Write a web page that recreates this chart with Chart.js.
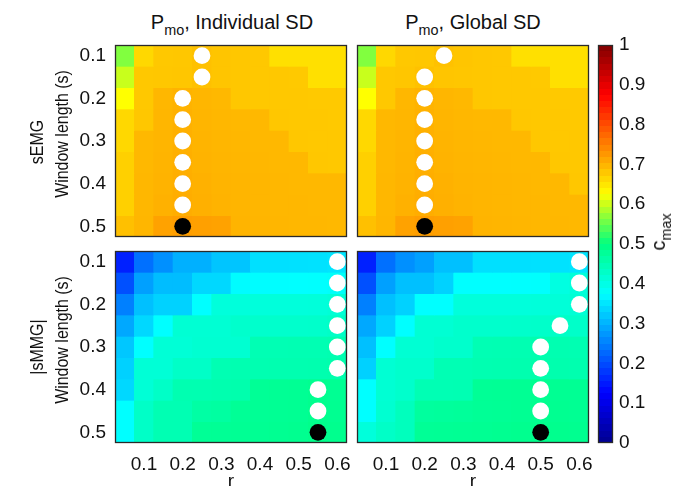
<!DOCTYPE html>
<html><head><meta charset="utf-8">
<script src="https://cdn.jsdelivr.net/npm/chart.js@4/dist/chart.umd.min.js"></script>
<style>
html,body{margin:0;padding:0;background:#fff;}
#fig{position:relative;width:676px;height:486px;overflow:hidden;background:#fff;font-family:'Liberation Sans',Arial,sans-serif;color:#111;}
.box{position:absolute;}
.lbl{position:absolute;white-space:nowrap;line-height:1;}
.lbl sub{font-size:0.72em;vertical-align:-0.42em;line-height:0;}
.t{font-size:20px;transform:translate(-50%,0);}
.v{font-size:19px;transform:translate(-50%,-50%) rotate(-90deg) scaleX(0.84);}
</style></head><body>
<div id="fig">
  <div class="box" style="left:0;top:40px;width:352px;height:202px"><canvas id="cA"></canvas></div>
  <div class="box" style="left:352px;top:40px;width:242px;height:202px"><canvas id="cB"></canvas></div>
  <div class="box" style="left:0;top:246px;width:352px;height:260px"><canvas id="cC"></canvas></div>
  <div class="box" style="left:352px;top:246px;width:242px;height:260px"><canvas id="cD"></canvas></div>
  <div class="box" style="left:594px;top:20px;width:82px;height:445px"><canvas id="cE"></canvas></div>
  <div class="lbl t" style="left:232px;top:12px">P<sub>mo</sub>, Individual SD</div>
  <div class="lbl t" style="left:473px;top:12px">P<sub>mo</sub>, Global SD</div>
  <div class="lbl v" style="left:36px;top:142px">sEMG</div>
  <div class="lbl v" style="left:61px;top:134px">Window length (s)</div>
  <div class="lbl v" style="left:36px;top:347px">|sMMG|</div>
  <div class="lbl v" style="left:61px;top:340px">Window length (s)</div>
  <div class="lbl v" style="left:658px;top:232px;transform:translate(-50%,-50%) rotate(-90deg);font-size:20px">c<sub>max</sub></div>
</div>
<script>
// ---- data ----
const rValues = [0.05,0.1,0.15,0.2,0.25,0.3,0.35,0.4,0.45,0.5,0.55,0.6];
const windowLengths = [0.1,0.15,0.2,0.25,0.3,0.35,0.4,0.45,0.5];
const xTicks = [0.1,0.2,0.3,0.4,0.5,0.6];
const yTicks = [0.1,0.2,0.3,0.4,0.5];
const cbarTicks = [0,0.1,0.2,0.3,0.4,0.5,0.6,0.7,0.8,0.9,1];

const semgIndividual = [
 [0.563,0.663,0.679,0.680,0.686,0.682,0.680,0.679,0.655,0.655,0.655,0.655],
 [0.598,0.679,0.680,0.681,0.686,0.682,0.680,0.679,0.679,0.678,0.655,0.655],
 [0.625,0.679,0.696,0.700,0.697,0.695,0.680,0.679,0.679,0.679,0.678,0.678],
 [0.663,0.680,0.697,0.701,0.698,0.696,0.695,0.695,0.680,0.679,0.679,0.678],
 [0.663,0.695,0.698,0.702,0.699,0.697,0.696,0.695,0.695,0.680,0.679,0.679],
 [0.671,0.695,0.699,0.703,0.700,0.698,0.697,0.696,0.695,0.695,0.680,0.679],
 [0.671,0.696,0.700,0.704,0.701,0.699,0.698,0.697,0.696,0.695,0.695,0.695],
 [0.671,0.696,0.701,0.705,0.702,0.700,0.698,0.697,0.696,0.696,0.695,0.695],
 [0.687,0.697,0.716,0.720,0.718,0.716,0.699,0.698,0.697,0.696,0.696,0.695]];
const semgGlobal = [
 [0.563,0.663,0.679,0.680,0.686,0.682,0.680,0.679,0.655,0.655,0.655,0.655],
 [0.598,0.679,0.681,0.686,0.682,0.681,0.680,0.679,0.679,0.678,0.655,0.655],
 [0.625,0.679,0.696,0.700,0.697,0.695,0.680,0.679,0.679,0.679,0.678,0.678],
 [0.663,0.695,0.697,0.701,0.698,0.696,0.695,0.695,0.680,0.679,0.679,0.678],
 [0.663,0.695,0.698,0.702,0.699,0.697,0.696,0.695,0.695,0.680,0.679,0.679],
 [0.671,0.695,0.699,0.703,0.700,0.698,0.697,0.696,0.695,0.695,0.680,0.679],
 [0.671,0.696,0.700,0.704,0.701,0.699,0.698,0.697,0.696,0.695,0.695,0.680],
 [0.671,0.696,0.701,0.705,0.702,0.700,0.698,0.697,0.696,0.696,0.695,0.695],
 [0.687,0.697,0.716,0.720,0.718,0.716,0.699,0.698,0.697,0.696,0.696,0.695]];
const smmgIndividual = [
 [0.156,0.235,0.266,0.298,0.298,0.318,0.318,0.345,0.345,0.346,0.347,0.350],
 [0.203,0.282,0.310,0.310,0.337,0.337,0.372,0.373,0.374,0.375,0.376,0.380],
 [0.250,0.313,0.331,0.331,0.375,0.410,0.410,0.410,0.410,0.410,0.411,0.415],
 [0.290,0.337,0.375,0.418,0.418,0.418,0.425,0.425,0.425,0.425,0.426,0.430],
 [0.320,0.375,0.415,0.415,0.420,0.420,0.420,0.449,0.449,0.450,0.450,0.452],
 [0.330,0.415,0.415,0.430,0.430,0.450,0.452,0.452,0.453,0.453,0.454,0.456],
 [0.337,0.415,0.430,0.452,0.452,0.454,0.456,0.478,0.479,0.480,0.484,0.481],
 [0.375,0.430,0.450,0.450,0.465,0.468,0.478,0.479,0.480,0.481,0.486,0.483],
 [0.375,0.430,0.450,0.450,0.478,0.479,0.480,0.481,0.482,0.484,0.489,0.486]];
const smmgGlobal = [
 [0.156,0.235,0.266,0.282,0.313,0.313,0.345,0.345,0.345,0.346,0.347,0.350],
 [0.203,0.282,0.313,0.313,0.331,0.375,0.375,0.375,0.376,0.377,0.405,0.410],
 [0.250,0.313,0.331,0.375,0.375,0.410,0.410,0.410,0.410,0.411,0.413,0.416],
 [0.290,0.331,0.375,0.418,0.418,0.425,0.425,0.425,0.426,0.427,0.430,0.428],
 [0.313,0.375,0.418,0.418,0.425,0.425,0.449,0.450,0.451,0.454,0.452,0.451],
 [0.330,0.418,0.425,0.425,0.449,0.449,0.452,0.453,0.454,0.457,0.455,0.454],
 [0.375,0.418,0.425,0.449,0.449,0.450,0.478,0.479,0.480,0.483,0.481,0.480],
 [0.375,0.420,0.440,0.470,0.472,0.474,0.478,0.479,0.481,0.485,0.483,0.481],
 [0.410,0.430,0.440,0.478,0.479,0.480,0.481,0.483,0.485,0.488,0.486,0.484]];

// r of the row maximum (white dots) and window of the overall maximum (black dot)
const semgIndividualPeakR = [0.25,0.25,0.2,0.2,0.2,0.2,0.2,0.2,0.2];
const semgGlobalPeakR     = [0.25,0.2,0.2,0.2,0.2,0.2,0.2,0.2,0.2];
const smmgIndividualPeakR = [0.6,0.6,0.6,0.6,0.6,0.6,0.55,0.55,0.55];
const smmgGlobalPeakR     = [0.6,0.6,0.6,0.55,0.5,0.5,0.5,0.5,0.5];
const overallMaxWindow = 0.5;

// ---- colour map (jet-like) ----
const stops = [[0,[0,0,143]],[0.125,[0,0,255]],[0.375,[0,255,255]],[0.5,[0,255,128]],[0.625,[255,255,0]],[0.875,[255,0,0]],[1,[128,0,0]]];
function cmap(v){
  v = Math.max(0, Math.min(1, v));
  for (let i = 1; i < stops.length; i++) {
    if (v <= stops[i][0]) {
      const [a, ca] = stops[i-1], [b, cb] = stops[i];
      const t = (v - a) / (b - a);
      const c = ca.map((x, k) => Math.round(x + (cb[k] - x) * t));
      return `rgb(${c[0]},${c[1]},${c[2]})`;
    }
  }
  return 'rgb(128,0,0)';
}

const FONT = "'Liberation Sans', Arial, sans-serif";
const TXT = '#111';
const noPad = ax => { ax.paddingLeft = 0; ax.paddingRight = 0; ax.paddingTop = 0; ax.paddingBottom = 0; };
const boxPlugin = {
  id: 'box',
  afterDraw(chart){
    const {ctx, chartArea: a} = chart;
    ctx.save();
    ctx.strokeStyle = '#2a2a2a';
    ctx.lineWidth = 1.3;
    ctx.strokeRect(a.left + 0.5, a.top + 0.5, a.width - 1, a.height - 1);
    ctx.restore();
  }
};

function makePanel(id, values, peakR, showX, showY, padding){
  const datasets = [];
  datasets.push({
    type: 'scatter', order: 0,
    data: windowLengths.map((w, i) => ({x: peakR[i], y: w})),
    pointRadius: 8.4, pointHoverRadius: 8.4, borderWidth: 0,
    pointBackgroundColor: windowLengths.map(w => w === overallMaxWindow ? '#000' : '#fff')
  });
  windowLengths.forEach((w, i) => {
    datasets.push({
      type: 'bar', order: 5, grouped: false,
      data: rValues.map(r => ({x: r, y: [w - 0.025, w + 0.025]})),
      backgroundColor: values[i].map(cmap),
      borderWidth: 0, barPercentage: 1, categoryPercentage: 1
    });
  });
  return new Chart(document.getElementById(id), {
    type: 'bar',
    data: {datasets},
    options: {
      responsive: true, maintainAspectRatio: false, animation: false,
      layout: {padding, autoPadding: false},
      plugins: {legend: {display: false}, tooltip: {enabled: false}},
      scales: {
        x: {
          type: 'linear', min: 0.025, max: 0.625, offset: false, display: showX,
          afterBuildTicks: ax => { ax.ticks = xTicks.map(v => ({value: v})); },
          afterFit: ax => { noPad(ax); if (showX) ax.height = 63; },
          grid: {display: false, drawTicks: false}, border: {display: false},
          ticks: {font: {family: FONT, size: 19}, color: TXT, padding: 10, maxRotation: 0, autoSkip: false,
                  callback: v => Number(v).toFixed(1)},
          title: {display: true, text: 'r', color: TXT, font: {family: FONT, size: 19}, padding: {top: 0, bottom: 13}}
        },
        y: {
          type: 'linear', reverse: true, min: 0.075, max: 0.525, display: showY,
          afterBuildTicks: ax => { ax.ticks = yTicks.map(v => ({value: v})); },
          afterFit: ax => { noPad(ax); if (showY) ax.width = 115; },
          grid: {display: false, drawTicks: false}, border: {display: false},
          ticks: {font: {family: FONT, size: 19}, color: TXT, padding: 9, autoSkip: false,
                  callback: v => Number(v).toFixed(1)}
        }
      }
    },
    plugins: [boxPlugin]
  });
}

makePanel('cA', semgIndividual, semgIndividualPeakR, false, true, {top:5,right:5,bottom:5,left:0});
makePanel('cB', semgGlobal, semgGlobalPeakR, false, false, {top:5,right:5,bottom:5,left:5});
makePanel('cC', smmgIndividual, smmgIndividualPeakR, true, true, {top:5,right:5,bottom:0,left:0});
makePanel('cD', smmgGlobal, smmgGlobalPeakR, true, false, {top:5,right:5,bottom:0,left:5});

new Chart(document.getElementById('cE'), {
  type: 'bar',
  data: {labels: ['c'], datasets: [{
    data: [[0, 1]], borderWidth: 0, barPercentage: 1, categoryPercentage: 1,
    backgroundColor: (ctx) => {
      const chart = ctx.chart;
      if (!chart.chartArea) return '#888';
      const ys = chart.scales.y;
      const g = chart.ctx.createLinearGradient(0, ys.getPixelForValue(0), 0, ys.getPixelForValue(1));
      const n = 64;
      for (let i = 0; i < n; i++) {
        const c = cmap((i + 0.5) / n);
        g.addColorStop(i / n, c);
        g.addColorStop((i + 1) / n, c);
      }
      return g;
    }
  }]},
  options: {
    responsive: true, maintainAspectRatio: false, animation: false,
    layout: {padding: {top: 25, right: 0, bottom: 22, left: 4}, autoPadding: false},
    plugins: {legend: {display: false}, tooltip: {enabled: false}},
    scales: {
      x: {type: 'category', display: false, afterFit: noPad},
      y: {
        position: 'right', min: 0, max: 1,
        afterBuildTicks: ax => { ax.ticks = cbarTicks.map(v => ({value: v})); },
        afterFit: ax => { noPad(ax); ax.width = 63; },
        grid: {display: false, drawTicks: false}, border: {display: false},
        ticks: {font: {family: FONT, size: 19}, color: TXT, padding: 6, autoSkip: false,
                callback: v => String(Math.round(v * 10) / 10)}
      }
    }
  },
  plugins: [boxPlugin]
});
</script>
</body></html>
